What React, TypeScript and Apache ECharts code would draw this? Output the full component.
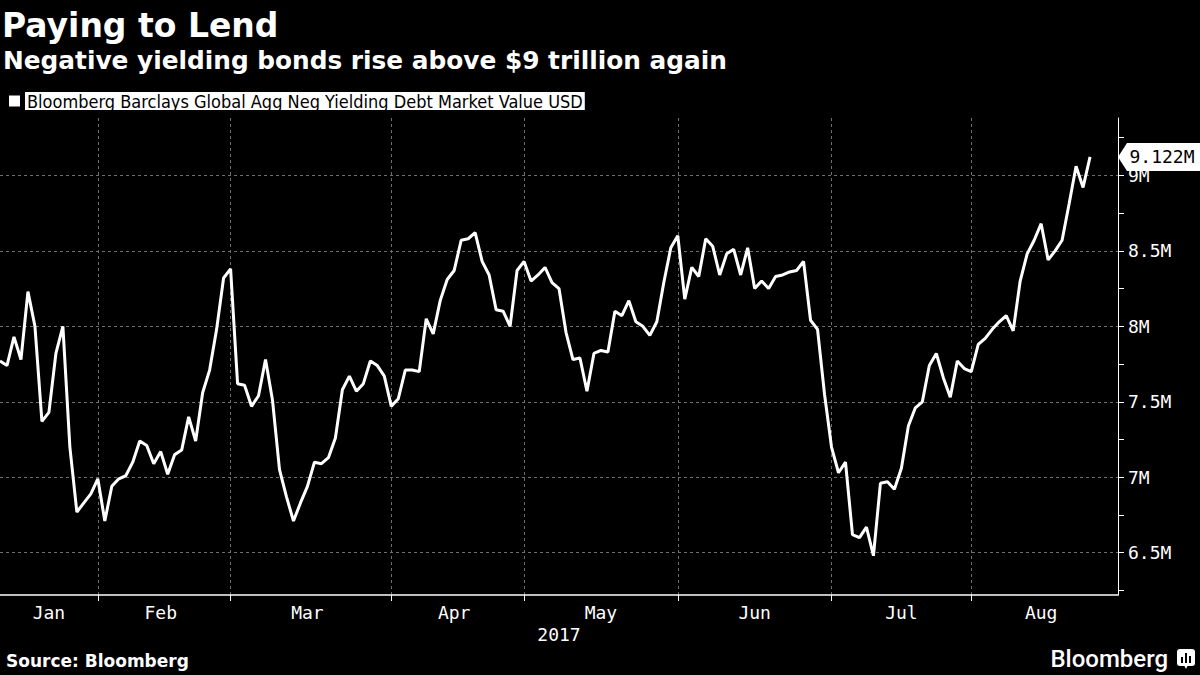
import { useEffect, useRef } from "react";
import * as echarts from "echarts";

const MONTH_NAMES = ["Jan", "Feb", "Mar", "Apr", "May", "Jun", "Jul", "Aug"];

// trading days of 2017 on the axis (US bond holidays left out)
const JAN_DAYS = [11, 12, 13, 17, 18, 19, 20, 23, 24, 25, 26, 27, 30, 31];
const FEB_DAYS = [1, 2, 3, 6, 7, 8, 9, 10, 13, 14, 15, 16, 17, 21, 22, 23, 24, 27, 28];
const MAR_DAYS = [1, 2, 3, 6, 7, 8, 9, 10, 13, 14, 15, 16, 17, 20, 21, 22, 23, 24, 27, 28, 29, 30, 31];
const APR_DAYS = [3, 4, 5, 6, 7, 10, 11, 12, 13, 17, 18, 19, 20, 21, 24, 25, 26, 27, 28];
const MAY_DAYS = [1, 2, 3, 4, 5, 8, 9, 10, 11, 12, 15, 16, 17, 18, 19, 22, 23, 24, 25, 26, 30, 31];
const JUN_DAYS = [1, 2, 5, 6, 7, 8, 9, 12, 13, 14, 15, 16, 19, 20, 21, 22, 23, 26, 27, 28, 29, 30];
const JUL_DAYS = [3, 5, 6, 7, 10, 11, 12, 13, 14, 17, 18, 19, 20, 21, 24, 25, 26, 27, 28, 31];
const AUG_DAYS = [1, 2, 3, 4, 7, 8, 9, 10, 11, 14, 15, 16, 17, 18, 21, 22, 23, 24, 25, 28, 29, 30];

// market value, USD trillions (axis labelled "M")
const JAN_VALUES = [7.77, 7.74, 7.93, 7.78, 8.23, 8.0, 7.37, 7.43, 7.82, 8.0, 7.2, 6.77, 6.83, 6.89];
const FEB_VALUES = [6.99, 6.71, 6.94, 6.99, 7.01, 7.1, 7.24, 7.21, 7.09, 7.17, 7.02, 7.15, 7.18, 7.4, 7.24, 7.56, 7.71, 7.98, 8.32];
const MAR_VALUES = [8.38, 7.62, 7.61, 7.47, 7.54, 7.78, 7.51, 7.05, 6.87, 6.71, 6.83, 6.94, 7.1, 7.09, 7.13, 7.26, 7.58, 7.67, 7.57, 7.62, 7.77, 7.74, 7.67];
const APR_VALUES = [7.47, 7.52, 7.71, 7.71, 7.7, 8.05, 7.95, 8.17, 8.31, 8.37, 8.57, 8.58, 8.62, 8.43, 8.34, 8.11, 8.1, 8.0, 8.37];
const MAY_VALUES = [8.43, 8.3, 8.34, 8.39, 8.29, 8.25, 7.96, 7.78, 7.79, 7.57, 7.82, 7.84, 7.83, 8.1, 8.07, 8.17, 8.03, 8.0, 7.94, 8.03, 8.29, 8.52];
const JUN_VALUES = [8.6, 8.18, 8.39, 8.33, 8.58, 8.53, 8.34, 8.48, 8.51, 8.34, 8.52, 8.25, 8.3, 8.25, 8.33, 8.34, 8.36, 8.37, 8.43, 8.04, 7.98, 7.55];
const JUL_VALUES = [7.2, 7.03, 7.1, 6.62, 6.6, 6.67, 6.48, 6.96, 6.97, 6.92, 7.06, 7.34, 7.46, 7.5, 7.74, 7.82, 7.66, 7.53, 7.77, 7.72];
const AUG_VALUES = [7.7, 7.88, 7.92, 7.98, 8.03, 8.07, 7.97, 8.3, 8.48, 8.57, 8.68, 8.44, 8.5, 8.57, 8.81, 9.06, 8.92, 9.122];

const Y_TICKS = [6.25, 6.5, 6.75, 7, 7.25, 7.5, 7.75, 8, 8.25, 8.5, 8.75, 9, 9.25];
const Y_LABELS = [6.5, 7, 7.5, 8, 8.5, 9];

const SERIES_NAME = "Bloomberg Barclays Global Agg Neg Yielding Debt Market Value USD";

const MONTH_DAYS = [JAN_DAYS, FEB_DAYS, MAR_DAYS, APR_DAYS, MAY_DAYS, JUN_DAYS, JUL_DAYS, AUG_DAYS];
const MONTH_VALUES = [JAN_VALUES, FEB_VALUES, MAR_VALUES, APR_VALUES, MAY_VALUES, JUN_VALUES, JUL_VALUES, AUG_VALUES];

const MONO = '"DejaVu Sans Mono", monospace';
const BOLD = '"DejaVu Sans", sans-serif';
const NARROW = '"DejaVu Sans Condensed", "Liberation Sans Narrow", "DejaVu Sans Mono", sans-serif';

const pad = (n: number) => String(n).padStart(2, "0");

const dates: string[] = [];
const monthStart: number[] = [];
MONTH_DAYS.forEach((days, m) => {
  monthStart.push(dates.length);
  days.forEach((d) => dates.push(`2017-${pad(m + 1)}-${pad(d)}`));
});
const values = MONTH_VALUES.flat();

// ticks sit on the first trading day of each month, labels in the middle
const tickSet = new Set(monthStart.slice(1));
const labelMap = new Map<number, string>();
monthStart.forEach((start, m) => {
  const end = m < monthStart.length - 1 ? monthStart[m + 1] : dates.length - 1;
  labelMap.set(Math.floor((start + end) / 2), MONTH_NAMES[m]);
});

const last = values[values.length - 1];

export default function App() {
  const ref = useRef<HTMLDivElement | null>(null);

  useEffect(() => {
    document.body.style.margin = "0";
    document.body.style.background = "#000";
    if (!ref.current) return;
    const chart = echarts.init(ref.current, null, { renderer: "svg" });

    chart.setOption({
      animation: false,
      backgroundColor: "#000",
      title: [
        {
          text: "Paying to Lend",
          left: 2,
          top: 9,
          padding: 0,
          textStyle: { color: "#fff", fontSize: 33, fontWeight: "bold", fontFamily: BOLD },
        },
        {
          text: "Negative yielding bonds rise above $9 trillion again",
          left: 3,
          top: 48,
          padding: 0,
          textStyle: { color: "#fff", fontSize: 24.8, fontWeight: "bold", fontFamily: BOLD },
        },
        {
          text: "Source: Bloomberg",
          left: 6,
          top: 652,
          padding: 0,
          textStyle: { color: "#fff", fontSize: 17, fontWeight: "bold", fontFamily: BOLD },
        },
        {
          text: "Bloomberg",
          right: 32,
          top: 647,
          padding: 0,
          textStyle: { color: "#fff", fontSize: 24, fontWeight: 500, fontFamily: "Roboto, sans-serif" },
        },
      ],
      legend: {
        left: 9,
        top: 92,
        padding: 0,
        icon: "rect",
        itemWidth: 11,
        itemHeight: 11,
        data: [SERIES_NAME],
        textStyle: {
          color: "#000",
          backgroundColor: "#fff",
          padding: [0, 2],
          lineHeight: 18,
          fontSize: 18,
          fontFamily: NARROW,
        },
      },
      grid: { left: 0, right: 82, top: 118, bottom: 80 },
      xAxis: {
        type: "category",
        data: dates,
        boundaryGap: false,
        name: "2017",
        nameLocation: "middle",
        nameGap: 29,
        nameTextStyle: { color: "#fff", fontSize: 18, fontFamily: MONO },
        axisLine: { lineStyle: { color: "#fff", width: 1.5 } },
        axisTick: {
          interval: (i: number) => tickSet.has(i),
          length: 6,
          lineStyle: { color: "#fff" },
        },
        axisLabel: {
          interval: (i: number) => labelMap.has(i),
          formatter: (_v: string, i: number) => labelMap.get(i) ?? "",
          color: "#fff",
          fontSize: 18,
          fontFamily: MONO,
          margin: 8,
        },
        splitLine: {
          show: true,
          interval: (i: number) => tickSet.has(i),
          lineStyle: { color: "#6e6e6e", type: [3, 3], width: 1 },
        },
      },
      yAxis: {
        type: "value",
        position: "right",
        min: 6.22,
        max: 9.38,
        axisLine: { show: true, lineStyle: { color: "#fff", width: 1 } },
        axisTick: { show: true, customValues: Y_TICKS, length: 6, lineStyle: { color: "#fff" } },
        axisLabel: {
          customValues: Y_LABELS,
          formatter: (v: number) => `${v}M`,
          color: "#fff",
          fontSize: 18,
          fontFamily: MONO,
          margin: 10,
        },
        splitLine: { show: false },
      },
      graphic: [
        {
          type: "group",
          left: 1177,
          top: 649,
          children: [
            { type: "rect", shape: { x: 0, y: 0, width: 18, height: 17, r: 3 }, style: { fill: "#fff" } },
            { type: "polygon", shape: { points: [[7, 16], [11, 16], [9, 20]] }, style: { fill: "#fff" } },
            { type: "rect", shape: { x: 4, y: 8, width: 2, height: 6 }, style: { fill: "#000" } },
            { type: "rect", shape: { x: 8, y: 4, width: 2, height: 10 }, style: { fill: "#000" } },
            { type: "rect", shape: { x: 12, y: 7, width: 2, height: 7 }, style: { fill: "#000" } },
          ],
        },
      ],
      series: [
        {
          name: SERIES_NAME,
          type: "line",
          data: values,
          symbol: "none",
          itemStyle: { color: "#fff" },
          lineStyle: { color: "#fff", width: 3 },
          markLine: {
            silent: true,
            z: 1,
            symbol: ["none", "none"],
            label: { show: false },
            lineStyle: { color: "#6e6e6e", type: [3, 3], width: 1 },
            data: Y_LABELS.map((v) => ({ yAxis: v })),
          },
          markPoint: {
            silent: true,
            data: [
              {
                coord: [dates.length - 1, last],
                symbol: "path://M0,14 L9,0 L82,0 L82,28 L9,28 Z",
                symbolSize: [82, 28],
                symbolOffset: [41, 0],
                itemStyle: { color: "#fff" },
                label: {
                  show: true,
                  position: "inside",
                  offset: [3, 0],
                  formatter: `${last}M`,
                  color: "#000",
                  fontSize: 18,
                  fontFamily: MONO,
                },
              },
            ],
          },
        },
      ],
    });

    return () => chart.dispose();
  }, []);

  return <div ref={ref} style={{ width: 1200, height: 675, background: "#000" }} />;
}
